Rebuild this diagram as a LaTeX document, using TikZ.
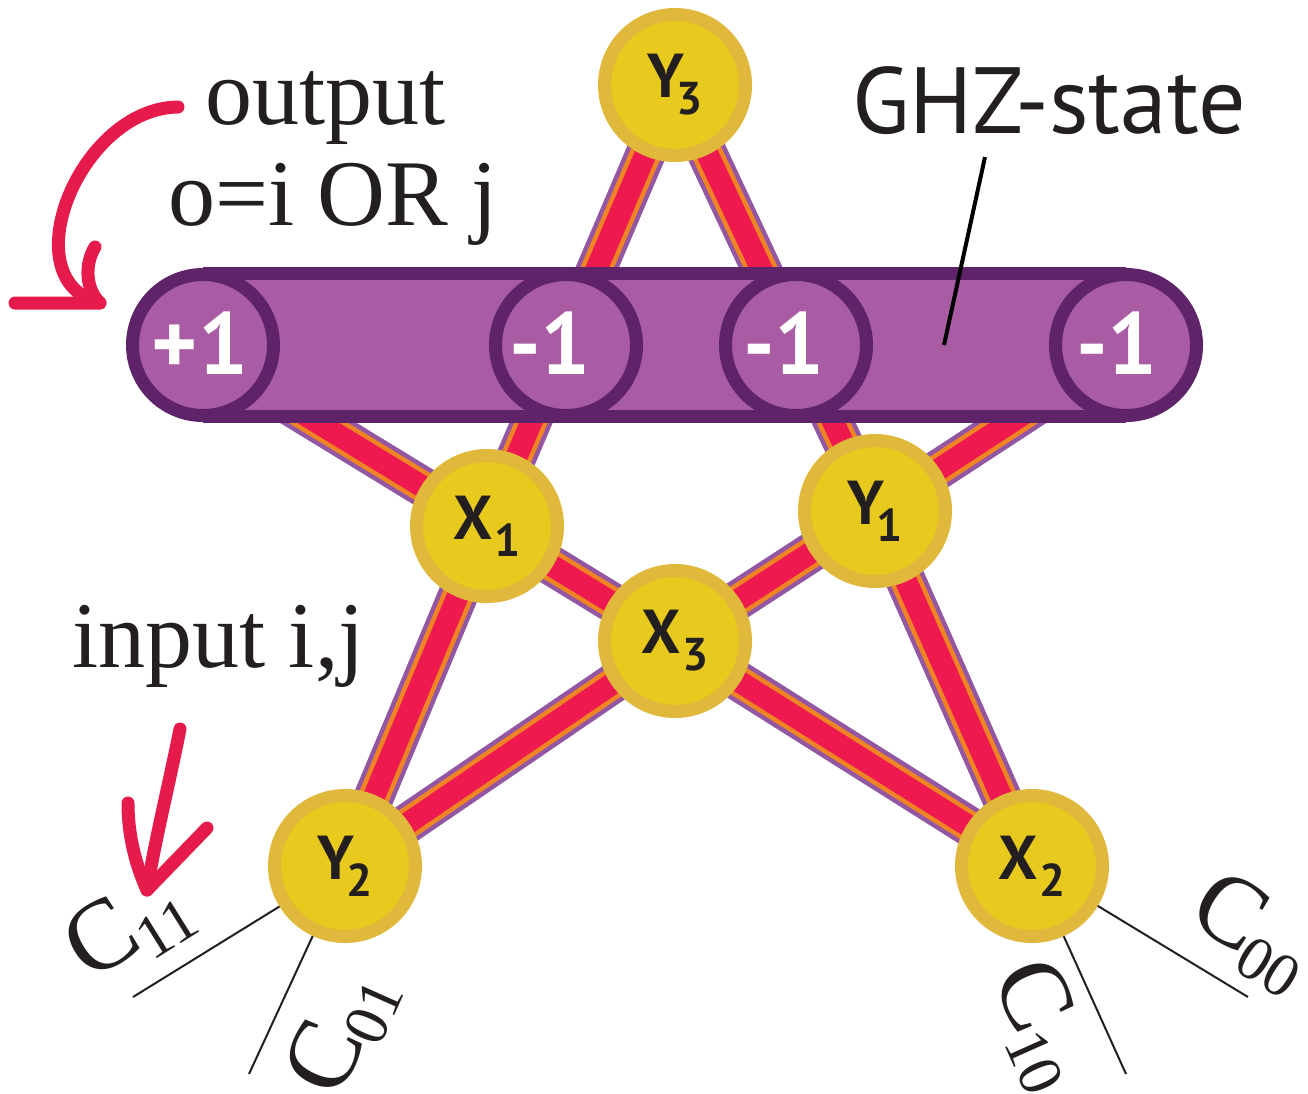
\documentclass[tikz,border=0pt]{standalone}
\usepackage{fontspec}
\setmainfont{Liberation Serif}
\newfontfamily\lblsans{PT Sans}
\usetikzlibrary{backgrounds}
\definecolor{barDark}{HTML}{5E2368}
\definecolor{barMid}{HTML}{A95BA3}
\definecolor{bandPurple}{HTML}{9356A3}
\definecolor{bandOrange}{HTML}{EF8424}
\definecolor{bandRed}{HTML}{EE1A4F}
\definecolor{nodeRing}{HTML}{E0B83C}
\definecolor{nodeFill}{HTML}{E7CA1D}
\definecolor{arrowRed}{HTML}{E61B4C}
\definecolor{inkDark}{HTML}{231F20}
\newcommand\labY[1]{Y\kern-8pt\raisebox{-17pt}{\fontsize{46}{46}\selectfont #1}}
\newcommand\labX[1]{X\kern1pt\raisebox{-17pt}{\fontsize{46}{46}\selectfont #1}}
\newcommand\Csub[1]{C\kern-3pt\raisebox{-16pt}{\fontsize{62}{62}\selectfont #1}}
\tikzset{
  starnode/.style={circle, fill=nodeFill, draw=nodeRing, line width=13pt,
    minimum size=141pt, inner sep=0pt, text=inkDark,
    font=\lblsans\bfseries\fontsize{62}{62}\selectfont},
  barcirc/.style={circle, fill=barMid, draw=barDark, line width=13pt,
    minimum size=141pt, inner sep=0pt},
  bartext/.style={inner sep=0pt, text=white,
    font=\lblsans\bfseries\fontsize{88}{88}\selectfont},
  bandP/.style={draw=bandPurple, line width=40pt},
  bandO/.style={draw=bandOrange, line width=31pt},
  bandR/.style={draw=bandRed, line width=22pt},
  seriflab/.style={inner sep=0pt, text=inkDark, font=\fontsize{94}{94}\selectfont},
  sanslab/.style={inner sep=0pt, text=inkDark, font=\lblsans\fontsize{94}{94}\selectfont},
  clab/.style={inner sep=0pt, text=inkDark, font=\fontsize{100}{100}\selectfont},
  cline/.style={draw=inkDark, line width=2pt},
  redarrow/.style={draw=arrowRed, line width=13pt, line cap=round, line join=round},
}
\begin{document}
\begin{tikzpicture}[x=1pt,y=-1pt]
\useasboundingbox (0,0) rectangle (1308,1093);
% star nodes
\node[starnode] (Y3) at (675,85) {\labY{3}};
\node[starnode] (X1) at (487,526) {\labX{1}};
\node[starnode] (Y1) at (875,511) {\labY{1}};
\node[starnode] (X3) at (675,641) {\labX{3}};
\node[starnode] (Y2) at (345,866) {\labY{2}};
\node[starnode] (X2) at (1032,866) {\labX{2}};
\coordinate (TL) at (253,383);
\coordinate (TR) at (1071,383);
% bands
\begin{scope}[on background layer]
\foreach \a/\b in {Y3/X1,X1/Y2,Y3/Y1,Y1/X2,TL/X1,X1/X3,X3/X2,TR/Y1,Y1/X3,X3/Y2}
  \draw[bandP] (\a.center) -- (\b.center);
\foreach \a/\b in {Y3/X1,X1/Y2,Y3/Y1,Y1/X2,TL/X1,X1/X3,X3/X2,TR/Y1,Y1/X3,X3/Y2}
  \draw[bandO] (\a.center) -- (\b.center);
\foreach \a/\b in {Y3/X1,X1/Y2,Y3/Y1,Y1/X2,TL/X1,X1/X3,X3/X2,TR/Y1,Y1/X3,X3/Y2}
  \draw[bandR] (\a.center) -- (\b.center);
\end{scope}
% GHZ bar
\fill[barMid] (203,267) rectangle (1126,423);
\draw[barDark, line width=13pt] (203,273.5) -- (1126,273.5) (203,416.5) -- (1126,416.5);
\node[barcirc] (B1) at (203,345) {};
\node[barcirc] (B2) at (566,345) {};
\node[barcirc] (B3) at (796,345) {};
\node[barcirc] (B4) at (1126,345) {};
\node[bartext] (T1) at (200,343) {+1};
\node[bartext] (T2) at (550,343) {-1};
\node[bartext] (T3) at (784,343) {-1};
\node[bartext] (T4) at (1117,343) {-1};
% labels
\node[seriflab, anchor=base west] (out1) at (205,124) {output};
\node[seriflab, anchor=base west] (out2) at (168,225) {o=i OR j};
\node[seriflab, anchor=base west] (inp) at (72,667) {input i,j};
\node[sanslab, anchor=base west] (ghz) at (852,133) {GHZ-state};
\coordinate (gA) at (985,157);
\coordinate (gB) at (944,345);
\draw[draw=black, line width=4pt] (gA) -- (gB);
% red arrows
\coordinate (oS) at (178,107);
\coordinate (oT) at (100,303);
\coordinate (oU) at (95,247);
\coordinate (oL) at (15,303);
\draw[redarrow] (oS) .. controls (80,108) and (10,280) .. (oT);
\draw[redarrow] (oU) .. controls (84,265) and (86,290) .. (oT) -- (oL);
\coordinate (iS) at (180,729);
\coordinate (iT) at (147,890);
\coordinate (iL) at (128,803);
\coordinate (iR) at (207,828);
\draw[redarrow] (iS) .. controls (170,780) and (155,840) .. (iT);
\draw[redarrow] (iL) .. controls (128,840) and (138,870) .. (iT) -- (iR);
% C labels
\node[clab, rotate=32] (c11) at (129,928) {\Csub{11}};
\node[clab, rotate=66] (c01) at (342,1033) {\Csub{01}};
\node[clab, rotate=-66] (c10) at (1040,1025) {\Csub{10}};
\node[clab, rotate=-32] (c00) at (1252,933) {\Csub{00}};
\coordinate (l11) at (133,997);
\coordinate (l01) at (249,1074);
\coordinate (l10) at (1126,1074);
\coordinate (l00) at (1248,997);
\draw[cline] (Y2) -- (l11);
\draw[cline] (Y2) -- (l01);
\draw[cline] (X2) -- (l10);
\draw[cline] (X2) -- (l00);
\end{tikzpicture}
\end{document}
